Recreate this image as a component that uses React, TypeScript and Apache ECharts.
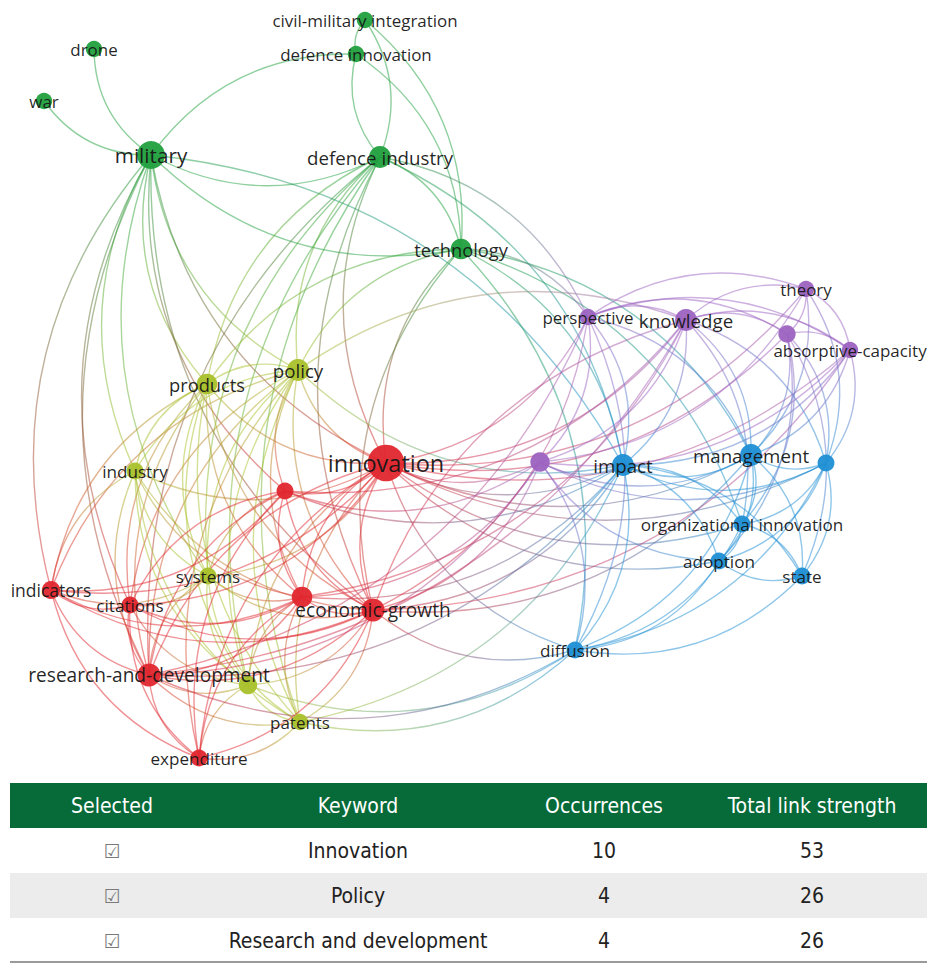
import React, { useEffect, useRef } from "react";
import * as echarts from "echarts";

// ---------- network data ----------
const keywords = [
  "innovation", "military", "defence industry", "technology", "civil-military integration",
  "defence innovation", "drone", "war", "policy", "products",
  "industry", "systems", "patents", "u:yellow", "indicators",
  "citations", "research-and-development", "expenditure", "economic-growth", "u:red1",
  "u:red2", "perspective", "knowledge", "theory", "absorptive-capacity",
  "u:purple1", "u:purple2", "impact", "management", "u:blue",
  "organizational innovation", "adoption", "state", "diffusion",
];
// 0 red, 1 green, 2 yellow, 3 purple, 4 blue
const clusterOf = [0, 1, 1, 1, 1, 1, 1, 1, 2, 2, 2, 2, 2, 2, 0, 0, 0, 0, 0, 0, 0, 3, 3, 3, 3, 3, 3, 4, 4, 4, 4, 4, 4, 4];
const nodeX = [386, 151, 380, 461, 365, 356, 94, 44, 298, 207, 135, 208, 300, 248, 51, 130, 149, 199, 373, 285, 302, 588, 686, 806, 850, 787, 540, 623, 751, 826, 742, 719, 802, 575];
const nodeY = [463, 155, 157, 249, 20, 54, 49, 101, 370, 384, 471, 576, 722, 685, 590, 605, 675, 758, 610, 491, 597, 317, 320, 289, 350, 334, 462, 465, 455, 463, 524, 561, 576, 650];
const occurrences = [10, 6.5, 4, 3.5, 1.8, 1.8, 1.8, 1.8, 4, 3.5, 2, 2, 1.8, 2.6, 2.5, 2, 4.5, 2, 4.5, 2, 3.5, 1.8, 4, 1.8, 1.8, 2.2, 3, 4, 4, 2, 2, 2, 2, 2];

const links: [string, string][] = [
  // green cluster
  ["military", "war"], ["military", "drone"], ["military", "defence innovation"], ["defence industry", "military"], ["military", "technology"],
  ["civil-military integration", "defence innovation"], ["civil-military integration", "defence industry"], ["civil-military integration", "technology"],
  ["defence innovation", "defence industry"], ["defence innovation", "technology"], ["defence industry", "technology"],
  ["military", "policy"], ["military", "products"], ["military", "industry"], ["military", "innovation"], ["military", "indicators"],
  ["military", "research-and-development"], ["military", "systems"], ["military", "economic-growth"], ["military", "impact"],
  ["military", "u:red1"], ["military", "citations"],
  ["defence industry", "policy"], ["defence industry", "products"], ["defence industry", "innovation"], ["defence industry", "research-and-development"],
  ["defence industry", "systems"], ["defence industry", "economic-growth"], ["defence industry", "impact"], ["defence industry", "perspective"],
  ["defence industry", "u:yellow"], ["defence industry", "patents"],
  ["technology", "innovation"], ["technology", "policy"], ["technology", "products"], ["technology", "impact"], ["technology", "management"],
  ["technology", "organizational innovation"], ["technology", "perspective"], ["technology", "diffusion"], ["technology", "economic-growth"],
  // yellow cluster
  ["policy", "products"], ["policy", "industry"], ["policy", "systems"], ["policy", "patents"], ["policy", "u:yellow"], ["policy", "innovation"],
  ["policy", "research-and-development"], ["policy", "economic-growth"], ["policy", "u:red1"], ["policy", "u:red2"], ["policy", "indicators"],
  ["policy", "citations"], ["policy", "impact"], ["policy", "knowledge"], ["policy", "expenditure"],
  ["products", "industry"], ["products", "systems"], ["products", "patents"], ["products", "u:yellow"], ["products", "innovation"],
  ["products", "research-and-development"], ["products", "citations"], ["products", "u:red2"], ["products", "economic-growth"], ["products", "indicators"],
  ["industry", "systems"], ["industry", "u:yellow"], ["industry", "patents"], ["industry", "innovation"], ["industry", "research-and-development"],
  ["industry", "indicators"], ["industry", "economic-growth"], ["industry", "u:red2"],
  ["systems", "u:yellow"], ["systems", "patents"], ["systems", "innovation"], ["systems", "research-and-development"], ["systems", "citations"],
  ["systems", "indicators"], ["systems", "economic-growth"], ["systems", "u:red2"], ["systems", "u:red1"],
  ["u:yellow", "patents"], ["u:yellow", "innovation"], ["u:yellow", "research-and-development"], ["u:yellow", "economic-growth"],
  ["u:yellow", "u:red2"], ["u:yellow", "expenditure"], ["u:yellow", "citations"], ["u:yellow", "diffusion"],
  ["patents", "innovation"], ["patents", "economic-growth"], ["patents", "research-and-development"], ["patents", "diffusion"],
  ["patents", "expenditure"], ["patents", "u:red2"], ["patents", "impact"],
  // red cluster
  ["innovation", "u:red1"], ["innovation", "u:red2"], ["innovation", "economic-growth"], ["innovation", "research-and-development"],
  ["innovation", "citations"], ["innovation", "indicators"], ["innovation", "expenditure"], ["innovation", "perspective"], ["innovation", "knowledge"],
  ["innovation", "theory"], ["innovation", "absorptive-capacity"], ["innovation", "u:purple1"], ["innovation", "u:purple2"], ["innovation", "impact"],
  ["innovation", "management"], ["innovation", "u:blue"], ["innovation", "organizational innovation"], ["innovation", "diffusion"], ["innovation", "adoption"],
  ["u:red1", "u:red2"], ["u:red1", "economic-growth"], ["u:red1", "research-and-development"], ["u:red1", "indicators"], ["u:red1", "expenditure"],
  ["u:red1", "citations"], ["u:red1", "u:purple2"], ["u:red1", "impact"], ["u:red1", "knowledge"],
  ["u:red2", "economic-growth"], ["u:red2", "research-and-development"], ["u:red2", "indicators"], ["u:red2", "citations"], ["u:red2", "expenditure"],
  ["u:red2", "knowledge"], ["u:red2", "u:purple2"], ["u:red2", "impact"],
  ["indicators", "citations"], ["indicators", "research-and-development"], ["indicators", "expenditure"], ["indicators", "economic-growth"],
  ["citations", "research-and-development"], ["citations", "expenditure"], ["citations", "economic-growth"],
  ["research-and-development", "expenditure"], ["research-and-development", "economic-growth"], ["research-and-development", "knowledge"],
  ["research-and-development", "impact"], ["research-and-development", "diffusion"], ["research-and-development", "u:purple2"], ["research-and-development", "perspective"],
  ["expenditure", "economic-growth"],
  ["economic-growth", "knowledge"], ["economic-growth", "perspective"], ["economic-growth", "u:purple2"], ["economic-growth", "impact"],
  ["economic-growth", "diffusion"], ["economic-growth", "management"], ["economic-growth", "absorptive-capacity"],
  // purple cluster
  ["perspective", "knowledge"], ["perspective", "theory"], ["perspective", "absorptive-capacity"], ["perspective", "u:purple1"], ["perspective", "u:purple2"],
  ["perspective", "impact"], ["perspective", "management"], ["perspective", "diffusion"],
  ["knowledge", "theory"], ["knowledge", "absorptive-capacity"], ["knowledge", "u:purple1"], ["knowledge", "u:purple2"], ["knowledge", "impact"],
  ["knowledge", "management"], ["knowledge", "organizational innovation"], ["knowledge", "u:blue"],
  ["theory", "absorptive-capacity"], ["theory", "u:purple1"], ["theory", "management"], ["theory", "u:blue"], ["theory", "u:purple2"],
  ["absorptive-capacity", "u:purple1"], ["absorptive-capacity", "management"], ["absorptive-capacity", "u:blue"], ["absorptive-capacity", "impact"], ["absorptive-capacity", "u:purple2"],
  ["u:purple1", "management"], ["u:purple1", "organizational innovation"], ["u:purple1", "state"], ["u:purple1", "u:blue"], ["u:purple1", "adoption"],
  ["u:purple2", "impact"], ["u:purple2", "management"], ["u:purple2", "diffusion"], ["u:purple2", "u:blue"], ["u:purple2", "adoption"],
  // blue cluster
  ["impact", "management"], ["impact", "u:blue"], ["impact", "organizational innovation"], ["impact", "adoption"], ["impact", "state"], ["impact", "diffusion"],
  ["management", "u:blue"], ["management", "organizational innovation"], ["management", "adoption"], ["management", "state"], ["management", "diffusion"],
  ["u:blue", "organizational innovation"], ["u:blue", "adoption"], ["u:blue", "state"], ["u:blue", "diffusion"],
  ["organizational innovation", "adoption"], ["organizational innovation", "state"], ["organizational innovation", "diffusion"],
  ["adoption", "state"], ["adoption", "diffusion"], ["state", "diffusion"],
];
const inwardLinks = [
  "military|war", "defence industry|military", "civil-military integration|defence industry",
  "economic-growth|knowledge", "military|technology",
];

// ---------- table data ----------
const tableHeaders = ["Selected", "Keyword", "Occurrences", "Total link strength"];
const tableKeywords = ["Innovation", "Policy", "Research and development"];
const tableOccurrences = [10, 4, 4];
const tableLinkStrength = [53, 26, 26];

const clusterColors = ["#e0262e", "#21a03e", "#a9c12b", "#9c63c1", "#1f8fd4"];

function buildOption() {
  const idx = new Map(keywords.map((k, i) => [k, i]));
  const nodes = keywords.map((k, i) => ({
    name: k,
    value: [nodeX[i], nodeY[i]],
    symbolSize: 12 + 2.45 * occurrences[i],
    itemStyle: { color: clusterColors[clusterOf[i]], opacity: 0.95 },
    label: { show: !k.startsWith("u:"), fontSize: 15.5 + 0.8 * occurrences[i] },
  }));
  const centre = [460, 400];
  const edges = links.map(([a, b]) => {
    const i = idx.get(a)!;
    const j = idx.get(b)!;
    const x1 = nodeX[i], y1 = nodeY[i], x2 = nodeX[j], y2 = nodeY[j];
    const dx = x2 - x1, dy = y2 - y1;
    const mx = (x1 + x2) / 2 - centre[0], my = (y1 + y2) / 2 - centre[1];
    const away = dy * mx - dx * my >= 0;
    const inward = inwardLinks.includes(a + "|" + b);
    const sign = away !== inward ? 1 : -1;
    return {
      source: a,
      target: b,
      lineStyle: {
        color: {
          type: "linear", x: x1, y: y1, x2: x2, y2: y2, global: true,
          colorStops: [
            { offset: 0, color: clusterColors[clusterOf[i]] },
            { offset: 1, color: clusterColors[clusterOf[j]] },
          ],
        },
        width: 1.4,
        opacity: 0.5,
        curveness: 0.26 * sign,
      },
    };
  });

  const colX = [112, 358, 604, 812];
  const tableFont = "'Liberation Sans Narrow', 'DejaVu Sans Condensed', 'Open Sans', sans-serif";
  const graphic: any[] = [
    { type: "rect", shape: { x: 10, y: 783, width: 917, height: 45 }, style: { fill: "#066b39" } },
    { type: "rect", shape: { x: 10, y: 873, width: 917, height: 45 }, style: { fill: "#ececec" } },
    { type: "line", shape: { x1: 10, y1: 962, x2: 927, y2: 962 }, style: { stroke: "#9a9a9a", lineWidth: 2 } },
  ];
  tableHeaders.forEach((h, c) => {
    graphic.push({
      type: "text", x: colX[c], y: 806,
      style: { text: h, fill: "#ffffff", fontSize: 21, fontFamily: tableFont, align: "center", verticalAlign: "middle" },
    });
  });
  tableKeywords.forEach((k, r) => {
    const y = 851 + r * 45;
    const cells = ["\u2611", k, String(tableOccurrences[r]), String(tableLinkStrength[r])];
    cells.forEach((t, c) => {
      graphic.push({
        type: "text", x: colX[c], y,
        style: {
          text: t,
          fill: c === 0 ? "#7a7a7a" : "#222222",
          fontSize: c === 0 ? 19 : 21,
          fontFamily: c === 0 ? "'DejaVu Sans', sans-serif" : tableFont,
          align: "center", verticalAlign: "middle",
        },
      });
    });
  });

  return {
    animation: false,
    backgroundColor: "#ffffff",
    grid: { left: 0, right: 0, top: 0, bottom: 0 },
    xAxis: { type: "value", min: 0, max: 927, show: false },
    yAxis: { type: "value", min: 0, max: 964, inverse: true, show: false },
    graphic,
    series: [
      {
        type: "graph",
        coordinateSystem: "cartesian2d",
        xAxisIndex: 0,
        yAxisIndex: 0,
        data: nodes,
        links: edges,
        silent: true,
        emphasis: { disabled: true },
        label: { show: true, position: "inside", color: "#161616", fontFamily: "'Open Sans', sans-serif" },
        z: 2,
      },
    ],
  };
}

export default function App() {
  const ref = useRef<HTMLDivElement>(null);
  useEffect(() => {
    document.body.style.margin = "0";
    if (!ref.current) return;
    const chart = echarts.init(ref.current, undefined, { renderer: "svg" });
    chart.setOption(buildOption() as any);
    return () => chart.dispose();
  }, []);
  return <div ref={ref} style={{ width: 927, height: 964 }} />;
}
